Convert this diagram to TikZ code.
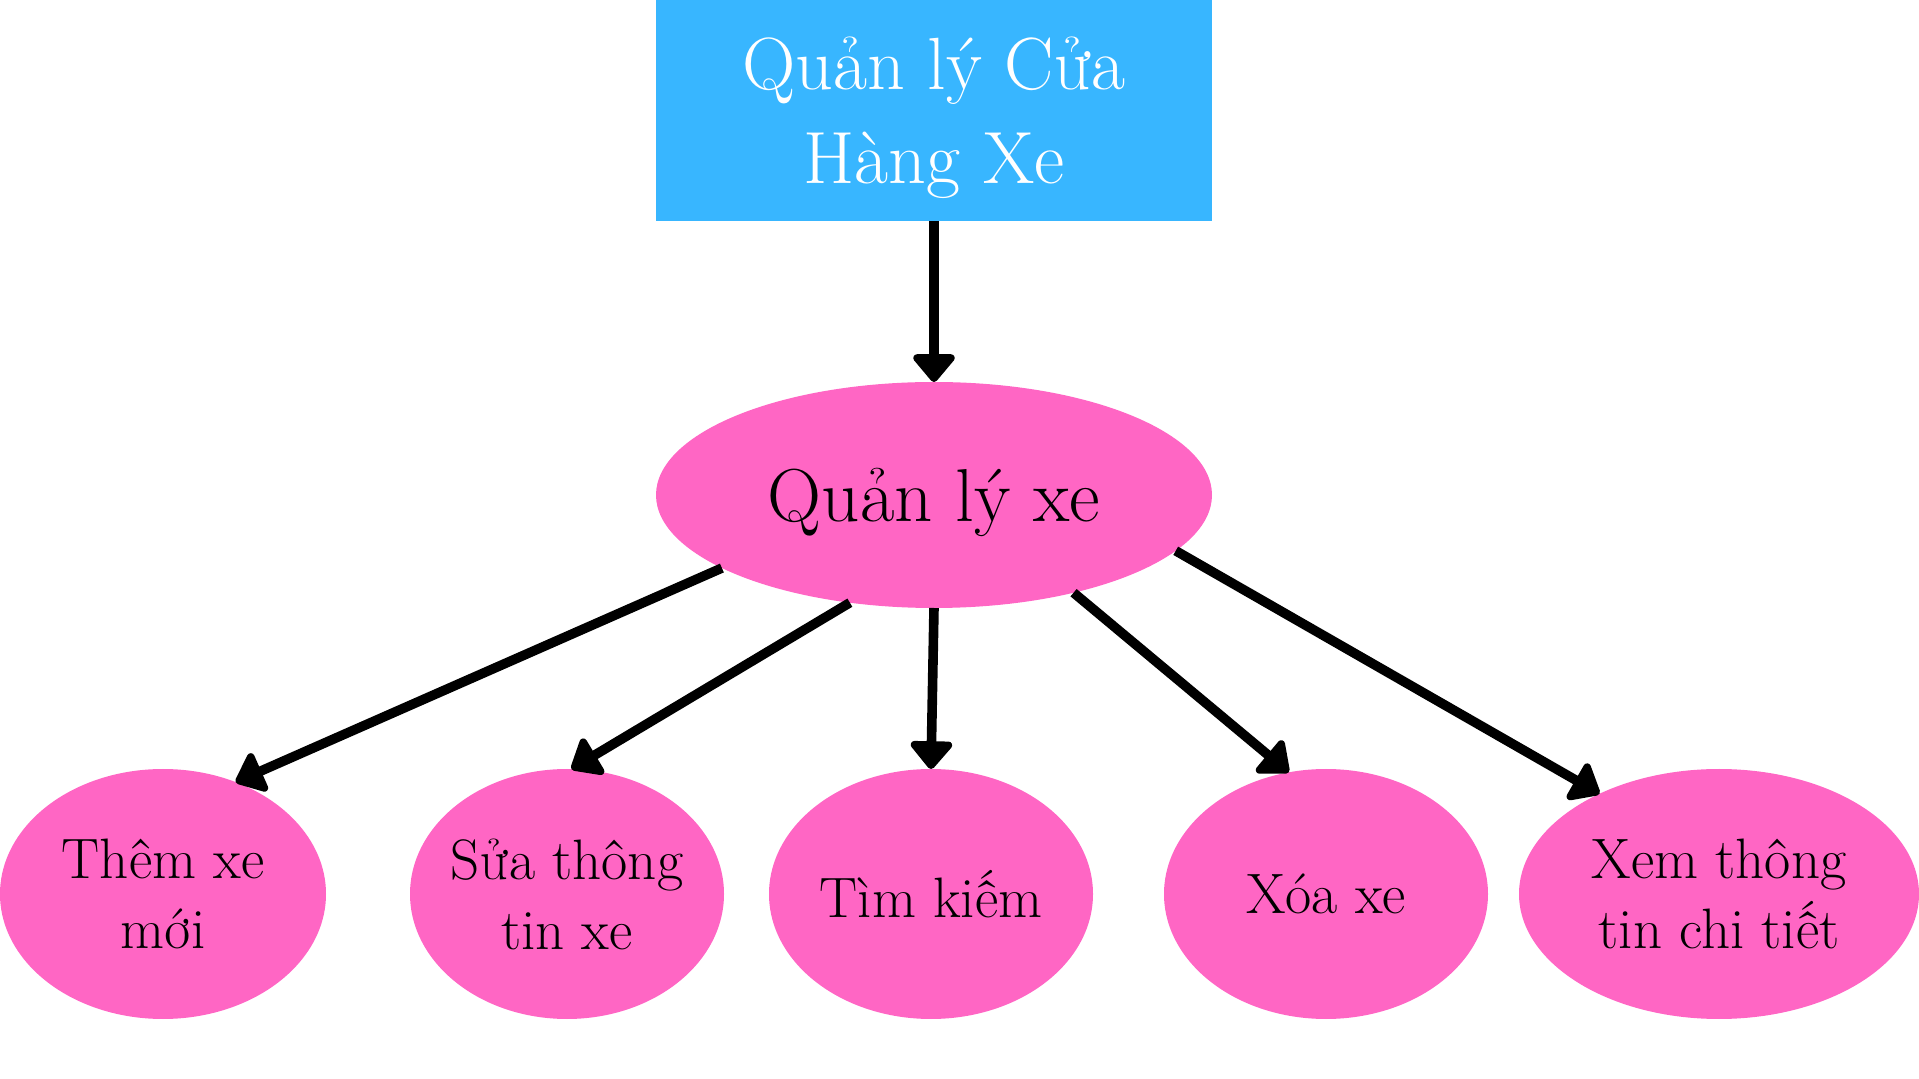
\documentclass[tikz,border=0pt]{standalone}
\usepackage{fontspec}
\usepackage{tikz}
\usetikzlibrary{shapes,arrows.meta,positioning}
\definecolor{skyblue}{HTML}{38B6FF}
\definecolor{rosepink}{HTML}{FF66C4}

\begin{document}
\begin{tikzpicture}[x=0.5pt,y=-0.5pt,node distance=80.5pt,outer sep=0pt,inner sep=0pt]
        \tikzset{title/.style={align=center,shape=rectangle,minimum width=278pt,minimum height=110.5pt,text depth=0pt,fill=skyblue,text=white,font=\fontsize{37}{47}\selectfont}}
        \tikzset{topic/.style={align=center,shape=ellipse,minimum width=278pt,minimum height=113pt,text depth=0pt,fill=rosepink,font=\fontsize{37.5}{44}\selectfont}}
        \tikzset{leaf/.style={align=center,shape=ellipse,inner sep=-8pt,minimum height=125pt,fill=rosepink,font=\fontsize{28.5}{35}\selectfont}}
        \tikzset{link/.style={-{Triangle[length=15pt,width=24pt,round]},line width=4.8pt}}

        \useasboundingbox (0,0) rectangle (1919,1079);
        \node [title] (store) at (934,110.5) {Quản lý Cửa\\Hàng Xe};
        \node [topic,below=of store] (cars) {Quản lý xe};
        \node [leaf,minimum width=162pt,below=of cars,xshift=-1.5pt] (search) {Tìm kiếm};
        \node [leaf,minimum width=157pt,left=22.5pt of search] (edit) {Sửa thông\\tin xe};
        \node [leaf,minimum width=163pt,left=42pt of edit] (add) {Thêm xe\\mới};
        \node [leaf,minimum width=162pt,right=35.5pt of search] (remove) {Xóa xe};
        \node [leaf,minimum width=200pt,right=15.5pt of remove] (details) {Xem thông\\tin chi tiết};

        \draw [link] (store) -- (cars);
        \draw [link] (cars.199) -- (add.57);
        \draw [link] (cars.232) -- (edit.88);
        \draw [link] (cars.south) -- (search.north);
        \draw [link] (cars.325) -- (remove.107);
        \draw [link] (cars.347.5) -- (details.140);

    \end{tikzpicture}
\end{document}
